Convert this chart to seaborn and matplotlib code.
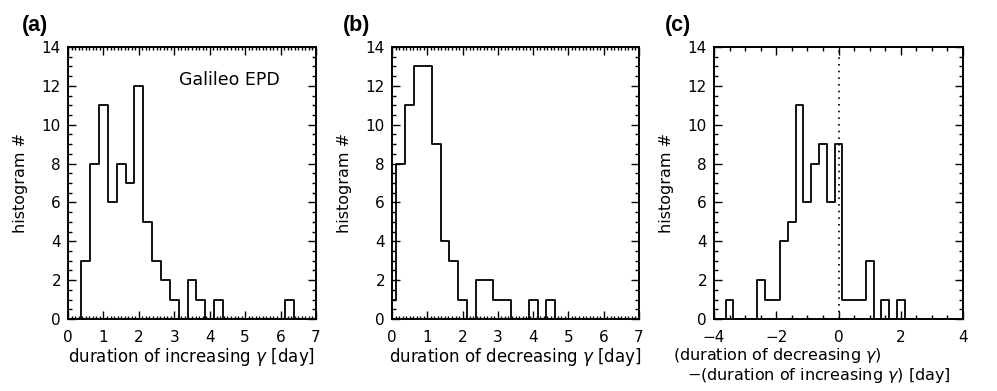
import numpy as np
import pandas as pd
import matplotlib
matplotlib.use("Agg")
import matplotlib.pyplot as plt
from matplotlib.ticker import MultipleLocator
import seaborn as sns

# ---- data (bin centres, width 0.25 day; empty bins at both ends) ----
centers_a = [0.25, 0.5, 0.75, 1.0, 1.25, 1.5, 1.75, 2.0, 2.25, 2.5, 2.75, 3.0, 3.25,
             3.5, 3.75, 4.0, 4.25, 4.5, 4.75, 5.0, 5.25, 5.5, 5.75, 6.0, 6.25, 6.5]
counts_a = [0, 3, 8, 11, 6, 8, 7, 12, 5, 3, 2, 1, 0,
            2, 1, 0, 1, 0, 0, 0, 0, 0, 0, 0, 1, 0]

centers_b = [0.0, 0.25, 0.5, 0.75, 1.0, 1.25, 1.5, 1.75, 2.0, 2.25, 2.5, 2.75,
             3.0, 3.25, 3.5, 3.75, 4.0, 4.25, 4.5, 4.75]
counts_b = [1, 8, 11, 13, 13, 9, 4, 3, 1, 0, 2, 2,
            1, 1, 0, 0, 1, 0, 1, 0]

centers_c = [-3.75, -3.5, -3.25, -3.0, -2.75, -2.5, -2.25, -2.0, -1.75, -1.5, -1.25,
             -1.0, -0.75, -0.5, -0.25, 0.0, 0.25, 0.5, 0.75, 1.0, 1.25, 1.5,
             1.75, 2.0, 2.25]
counts_c = [0, 1, 0, 0, 0, 2, 1, 1, 4, 5, 11,
            6, 8, 9, 6, 9, 1, 1, 1, 3, 0, 1,
            0, 1, 0]

binwidth = 0.25
panel_labels = ["(a)", "(b)", "(c)"]
xlabel_a = r"duration of increasing $\gamma$ [day]"
xlabel_b = r"duration of decreasing $\gamma$ [day]"
xlabel_c1 = r"(duration of decreasing $\gamma$)"
xlabel_c2 = r"$-$(duration of increasing $\gamma$) [day]"
ylabel = "histogram #"
annotation = "Galileo EPD"

sns.set_style("ticks")
plt.rcParams["font.family"] = ["DejaVu Sans"]
plt.rcParams["mathtext.fontset"] = "dejavusans"
for k in ["text.color", "axes.labelcolor", "xtick.color", "ytick.color",
          "axes.edgecolor"]:
    plt.rcParams[k] = "black"

fig = plt.figure(figsize=(9.97, 3.91), dpi=100)
W, H = 997, 391


def add_ax(l, r, t, b):
    return fig.add_axes([l / W, 1 - b / H, (r - l) / W, (b - t) / H])


axes = [add_ax(68, 316, 47, 319), add_ax(392, 639, 47, 319), add_ax(714, 963, 47, 319)]
datasets = [(centers_a, counts_a), (centers_b, counts_b), (centers_c, counts_c)]

for ax, (cen, cnt) in zip(axes, datasets):
    df = pd.DataFrame({"x": cen, "w": cnt})
    rng = (cen[0] - binwidth / 2, cen[-1] + binwidth / 2)
    sns.histplot(data=df, x="x", weights="w", binwidth=binwidth, binrange=rng,
                 element="step", fill=False, color="black", linewidth=1.3, ax=ax)
    ax.set_ylim(0, 14)
    ax.yaxis.set_major_locator(MultipleLocator(2))
    ax.yaxis.set_minor_locator(MultipleLocator(0.5))
    ax.set_ylabel(ylabel, fontsize=11.5)
    ax.tick_params(which="both", direction="in", top=True, right=True,
                   labelsize=11, width=1.0, color="black")
    ax.tick_params(which="major", length=6)
    ax.tick_params(axis="x", which="major", pad=8)
    ax.tick_params(axis="y", which="major", pad=5)
    ax.tick_params(which="minor", length=3)
    for s in ax.spines.values():
        s.set_linewidth(1.4)
        s.set_color("black")
    ax.yaxis.set_label_coords(-0.16, 0.5)

# panel a
ax = axes[0]
ax.set_xlim(0, 7)
ax.xaxis.set_major_locator(MultipleLocator(1))
ax.xaxis.set_minor_locator(MultipleLocator(0.1))
ax.tick_params(axis="x", which="minor", length=2)
ax.set_xlabel(xlabel_a, fontsize=12, labelpad=1)
ax.text(4.55, 12.3, annotation, ha="center", va="center", fontsize=12.5)

# panel b
ax = axes[1]
ax.set_xlim(0, 7)
ax.xaxis.set_major_locator(MultipleLocator(1))
ax.xaxis.set_minor_locator(MultipleLocator(0.1))
ax.tick_params(axis="x", which="minor", length=2)
ax.set_xlabel(xlabel_b, fontsize=12, labelpad=1)

# panel c
ax = axes[2]
ax.set_xlim(-4, 4)
ax.xaxis.set_major_locator(MultipleLocator(2))
ax.xaxis.set_minor_locator(MultipleLocator(0.5))
ax.axvline(0, color="black", linestyle=(0, (1, 3)), linewidth=1.2)
ax.set_xlabel("")
ax.text(-0.165, -0.133, xlabel_c1, transform=ax.transAxes, ha="left",
        va="center", fontsize=11.5)
ax.text(-0.11, -0.207, xlabel_c2, transform=ax.transAxes, ha="left",
        va="center", fontsize=11.5)

for lab, x in zip(panel_labels, [22, 343, 665]):
    fig.text(x / W, 1 - 25 / H, lab, ha="left", va="center", fontsize=15.5,
             fontweight="bold", family=["Liberation Sans", "DejaVu Sans"])

fig.savefig("out.png", dpi=100)
